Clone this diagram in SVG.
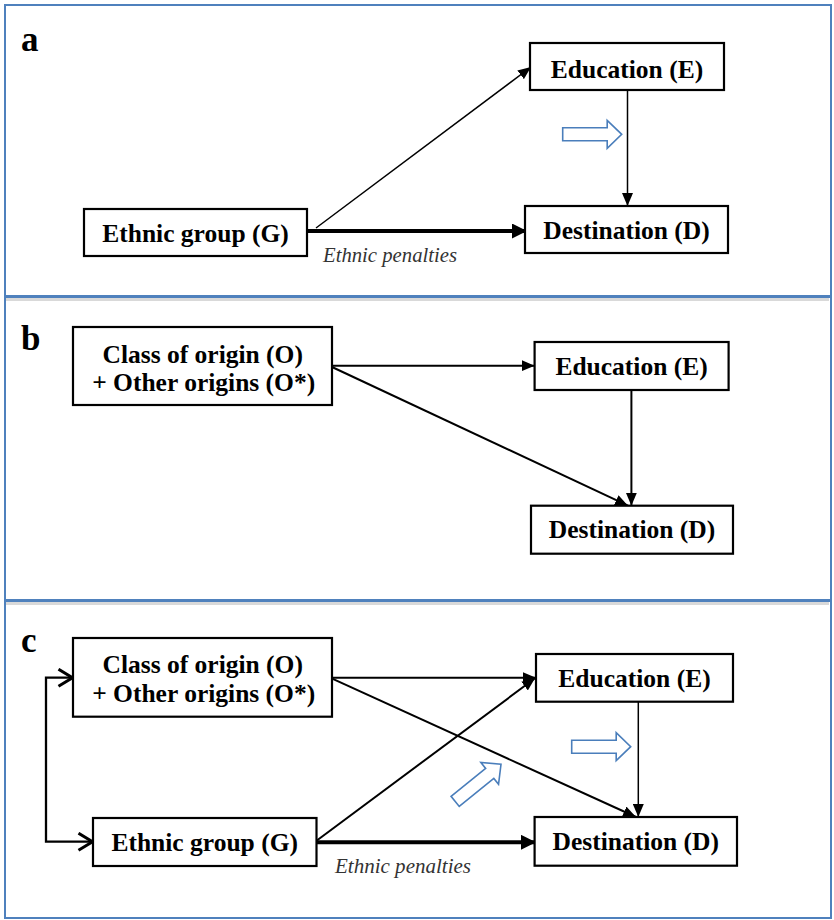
<svg xmlns="http://www.w3.org/2000/svg" xmlns:xlink="http://www.w3.org/1999/xlink" width="834" height="920" viewBox="0 0 834 920">
<style>
.panel{fill:#fff;stroke:#4f81bd;stroke-width:2}
.shadow{stroke:#d9d9d9;stroke-width:3;fill:none}
.box{fill:#fff;stroke:#000;stroke-width:2.2}
.t{font-family:"Liberation Serif","Times New Roman",serif;font-weight:bold;font-size:25.5px;fill:#000;text-anchor:middle}
.lab{font-family:"Liberation Serif","Times New Roman",serif;font-weight:bold;font-size:35px;fill:#000}
.pen{font-family:"Liberation Serif","Times New Roman",serif;font-style:italic;font-size:22px;fill:#333}
.c1{stroke:#000;stroke-width:1.5;fill:none;marker-end:url(#ah)}
.c2{stroke:#000;stroke-width:2;fill:none;marker-end:url(#ah)}
.c4{stroke:#000;stroke-width:4;fill:none;marker-end:url(#ahb)}
.blue{fill:#fff;stroke:#4a7ebb;stroke-width:1.6}
</style>
<defs>
<marker id="ah" markerUnits="userSpaceOnUse" markerWidth="13" markerHeight="11" refX="13" refY="5.5" orient="auto"><path d="M0,0 L13,5.5 L0,11 z" fill="#000"/></marker>
<marker id="ahb" markerUnits="userSpaceOnUse" markerWidth="15" markerHeight="15" refX="14" refY="7.5" orient="auto"><path d="M0,0 L15,7.5 L0,15 z" fill="#000"/></marker>
<marker id="chev" markerUnits="userSpaceOnUse" markerWidth="18" markerHeight="20" refX="16" refY="10" orient="auto-start-reverse"><path d="M1.5,1.5 L15.5,10 L1.5,18.5" fill="none" stroke="#000" stroke-width="3"/></marker>
<path id="barrow" d="M-59,-6.5 H-14.5 V-14 L0,0 L-14.5,14 V6.5 H-59 Z"/>
</defs>
<rect x="0" y="0" width="834" height="920" fill="#fff"/>
<g id="panels">
<rect class="panel" x="5" y="5" width="826" height="291"/>
<rect class="panel" x="5" y="297" width="826" height="303"/>
<rect class="panel" x="5" y="601" width="826" height="317"/>
<line class="shadow" x1="6" y1="299.5" x2="829" y2="299.5"/>
<line class="shadow" x1="6" y1="603.5" x2="829" y2="603.5"/>
</g>
<g id="labels">
<text class="lab" x="21" y="51">a</text>
<text class="lab" x="21" y="350">b</text>
<text class="lab" x="21" y="652">c</text>
<text class="pen" x="323" y="262" textLength="134" lengthAdjust="spacingAndGlyphs">Ethnic penalties</text>
<text class="pen" x="335" y="873" textLength="136" lengthAdjust="spacingAndGlyphs">Ethnic penalties</text>
</g>
<g id="connectors">
<line class="c1" x1="316" y1="228" x2="531" y2="67"/>
<line class="c4" x1="307" y1="231" x2="526" y2="231"/>
<line class="c1" x1="627.5" y1="90" x2="627.5" y2="206"/>
<line class="c2" x1="332" y1="365.7" x2="534.6" y2="365.7"/>
<line class="c2" x1="332" y1="367" x2="628" y2="505.7"/>
<line class="c2" x1="631.4" y1="390" x2="631.4" y2="505.7"/>
<line class="c2" x1="332" y1="677.7" x2="536" y2="677.7"/>
<line class="c2" x1="330" y1="677.7" x2="636" y2="817"/>
<line class="c2" x1="316.5" y1="840.7" x2="535" y2="678.3"/>
<line class="c4" x1="316.5" y1="842.3" x2="535" y2="842.3"/>
<line class="c1" x1="638.3" y1="701.7" x2="638.3" y2="817"/>
<path d="M73,677.7 H46 V841.7 H93" fill="none" stroke="#000" stroke-width="2.3" marker-start="url(#chev)" marker-end="url(#chev)"/>
</g>
<g id="hints">
<use xlink:href="#barrow" class="blue" transform="translate(621.7,134.3)"/>
<use xlink:href="#barrow" class="blue" transform="translate(630.7,746.7)"/>
<use xlink:href="#barrow" class="blue" transform="translate(501,764.3) rotate(-39)"/>
</g>
<g id="a-education"><rect class="box" x="530" y="43" width="194" height="47"/><text class="t" x="627" y="77.5">Education (E)</text></g>
<g id="a-ethnic"><rect class="box" x="84" y="209" width="223" height="47"/><text class="t" x="195.5" y="242">Ethnic group (G)</text></g>
<g id="a-destination"><rect class="box" x="525" y="206" width="203" height="47"/><text class="t" x="626.5" y="238.5">Destination (D)</text></g>
<g id="b-origin"><rect class="box" x="73" y="327" width="259" height="78"/><text class="t" x="202.7" y="362.7">Class of origin (O)</text><text class="t" x="203.7" y="390.7">+ Other origins (O*)</text></g>
<g id="b-education"><rect class="box" x="534.6" y="342" width="194" height="48"/><text class="t" x="631.6" y="374.5">Education (E)</text></g>
<g id="b-destination"><rect class="box" x="531" y="505.7" width="202" height="48"/><text class="t" x="632" y="538">Destination (D)</text></g>
<g id="c-origin"><rect class="box" x="73" y="638" width="259" height="78.7"/><text class="t" x="202.7" y="673">Class of origin (O)</text><text class="t" x="203.7" y="702">+ Other origins (O*)</text></g>
<g id="c-education"><rect class="box" x="536" y="654" width="197" height="47.7"/><text class="t" x="634.5" y="686.5">Education (E)</text></g>
<g id="c-ethnic"><rect class="box" x="93" y="818" width="223.5" height="48"/><text class="t" x="204.7" y="851">Ethnic group (G)</text></g>
<g id="c-destination"><rect class="box" x="534.6" y="817" width="202.4" height="48.7"/><text class="t" x="635.8" y="850">Destination (D)</text></g>
</svg>
